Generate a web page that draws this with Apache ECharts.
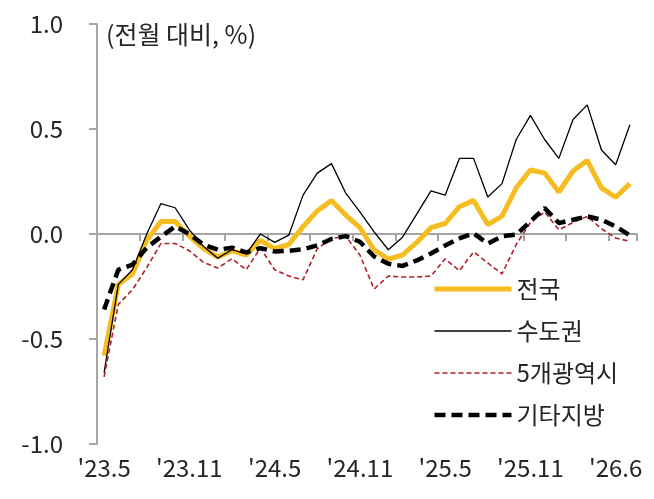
<!DOCTYPE html>
<html>
<head>
<meta charset="utf-8">
<script src="https://cdn.jsdelivr.net/npm/echarts@6/dist/echarts.min.js"></script>
<style>
    html, body { margin: 0; padding: 0; background: #fff; }
    #chart { width: 654px; height: 499px; }
</style>
</head>
<body>
<div id="chart"></div>
<script>
// 월별 카테고리 ('23.5 ~ '26.6)
const months = [];
for (let y = 23, m = 5; months.length < 38; m++) {
    if (m > 12) { m = 1; y++; }
    months.push("'" + y + "." + m);
}
// x축에 실제로 찍히는 라벨 (6개월 간격)
const tickLabels = ["'23.5", "'23.11", "'24.5", "'24.11", "'25.5", "'25.11", "'26.6"];

const nationwide = [-0.58, -0.24, -0.19, -0.03, 0.06, 0.06, -0.01, -0.07, -0.11, -0.08,
    -0.10, -0.03, -0.07, -0.05, 0.035, 0.11, 0.16, 0.09, 0.03, -0.075,
    -0.12, -0.10, -0.04, 0.03, 0.05, 0.13, 0.16, 0.045, 0.085, 0.22,
    0.305, 0.29, 0.20, 0.30, 0.35, 0.22, 0.175, 0.24];
const capital = [-0.66, -0.24, -0.17, 0.0, 0.145, 0.125, 0.02, -0.06, -0.115, -0.075,
    -0.095, 0.0, -0.04, -0.005, 0.185, 0.29, 0.335, 0.195, 0.105, 0.01,
    -0.075, -0.015, 0.095, 0.205, 0.185, 0.36, 0.36, 0.176, 0.24, 0.45,
    0.565, 0.45, 0.36, 0.545, 0.615, 0.40, 0.33, 0.52];
const metro5 = [-0.68, -0.335, -0.265, -0.16, -0.045, -0.045, -0.08, -0.135, -0.162, -0.118,
    -0.17, -0.067, -0.17, -0.2, -0.218, -0.07, -0.022, -0.01, -0.1, -0.262,
    -0.2, -0.205, -0.205, -0.2, -0.118, -0.175, -0.085, -0.138, -0.19, -0.05,
    0.055, 0.105, 0.02, 0.055, 0.084, 0.025, -0.019, -0.035];
const others = [-0.36, -0.17, -0.146, -0.065, -0.013, 0.036, 0.0, -0.051, -0.075, -0.065,
    -0.088, -0.067, -0.083, -0.08, -0.073, -0.054, -0.024, -0.01, -0.037, -0.107,
    -0.142, -0.152, -0.126, -0.093, -0.055, -0.021, 0.003, -0.046, -0.011, -0.003,
    0.06, 0.124, 0.052, 0.068, 0.084, 0.068, 0.036, -0.007];

const font = '"Noto Sans CJK KR", "Noto Sans", sans-serif';
const axisGray = '#a6a6a6';
const textColor = '#262626';

const chart = echarts.init(document.getElementById('chart'));

chart.setOption({
    animation: false,
    title: {
        text: '(전월 대비, %)',
        left: 106,
        top: 22,
        padding: 0,
        textStyle: { fontSize: 25, fontWeight: 'normal', color: textColor, fontFamily: font }
    },
    grid: { left: 97, right: 17, top: 24, bottom: 55, outerBoundsMode: 'none' },
    legend: {
        orient: 'vertical',
        left: 432,
        top: 277,
        padding: 0,
        itemWidth: 77,
        itemHeight: 24,
        itemGap: 18,
        // 선 모양만 보이도록 심볼은 숨김
        itemStyle: { opacity: 0 },
        lineStyle: { width: 'inherit', type: 'inherit' },
        textStyle: { fontSize: 24, color: textColor, fontFamily: font },
        data: ['전국', '수도권', '5개광역시', '기타지방']
    },
    xAxis: [
        {
            // 0 기준선 + 눈금
            type: 'category',
            data: months,
            boundaryGap: true,
            axisLine: { onZero: true, lineStyle: { color: axisGray, width: 2 } },
            axisTick: { show: true, interval: 2, length: 7, lineStyle: { color: axisGray, width: 2 } },
            axisLabel: { show: false },
            splitLine: { show: false }
        },
        {
            // 하단 라벨 전용
            type: 'category',
            data: months,
            position: 'bottom',
            boundaryGap: true,
            axisLine: { show: false, onZero: false },
            axisTick: { show: false },
            splitLine: { show: false },
            axisLabel: {
                interval: 5,
                margin: 12,
                fontSize: 24,
                color: textColor,
                fontFamily: font,
                formatter: function (value, index) {
                    return tickLabels[index / 6];
                }
            }
        }
    ],
    yAxis: {
        type: 'value',
        min: -1,
        max: 1,
        interval: 0.5,
        axisLine: { show: true, lineStyle: { color: axisGray, width: 2 } },
        axisTick: { show: true, length: 8, lineStyle: { color: axisGray, width: 2 } },
        splitLine: { show: false },
        axisLabel: {
            margin: 34,
            fontSize: 24,
            color: textColor,
            fontFamily: font,
            formatter: function (v) { return v.toFixed(1); }
        }
    },
    series: [
        {
            name: '전국', type: 'line', data: nationwide, symbol: 'none',
            lineStyle: { color: '#f5bd1f', width: 5 }, itemStyle: { color: '#f5bd1f' }
        },
        {
            name: '수도권', type: 'line', data: capital, symbol: 'none',
            lineStyle: { color: '#000', width: 1.3 }, itemStyle: { color: '#000' }
        },
        {
            name: '5개광역시', type: 'line', data: metro5, symbol: 'none',
            lineStyle: { color: '#b3202a', width: 1.6, type: [5, 3] }, itemStyle: { color: '#b3202a' }
        },
        {
            name: '기타지방', type: 'line', data: others, symbol: 'none',
            lineStyle: { color: '#000', width: 4.5, type: [11, 6] }, itemStyle: { color: '#000' }
        }
    ]
});
</script>
</body>
</html>
